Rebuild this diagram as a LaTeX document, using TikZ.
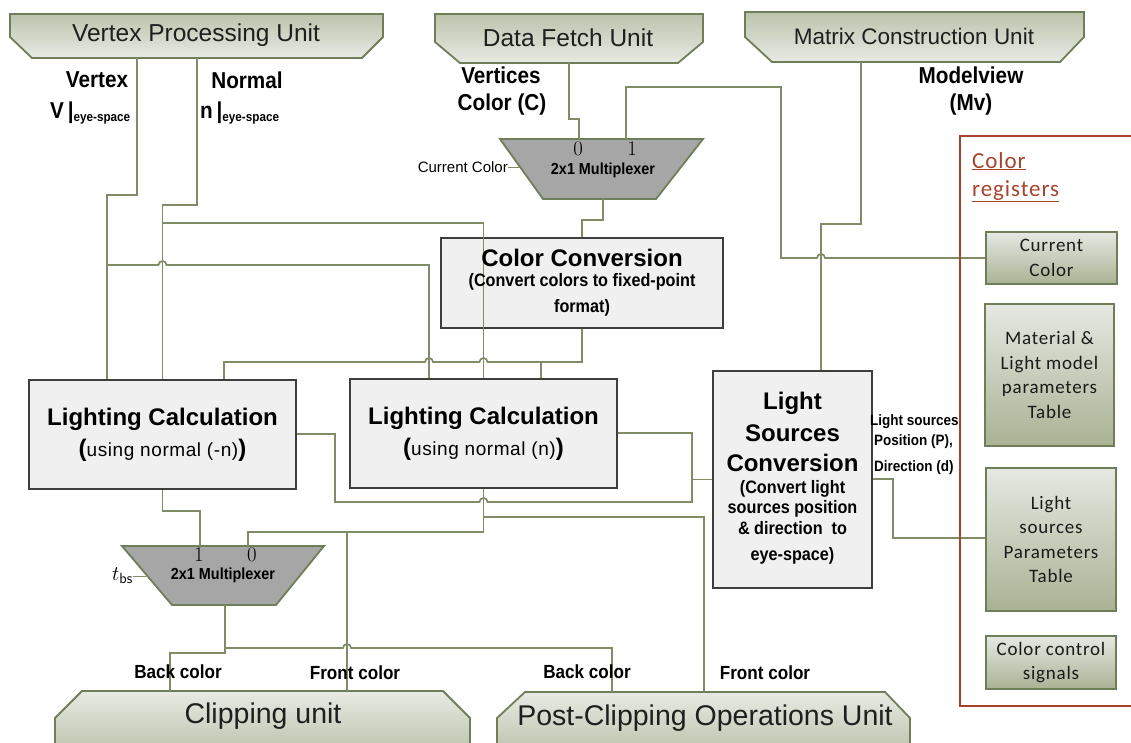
\documentclass[tikz,border=0pt]{standalone}
\usepackage{fontspec}
\setmainfont{Liberation Sans}
\newfontfamily\nbf{Liberation Sans}[FakeStretch=0.9]
\newfontfamily\regfont{Carlito}[LetterSpace=4]
\newfontfamily\spfont{Liberation Sans}[LetterSpace=3]
\definecolor{wirec}{HTML}{7F8C66}
\definecolor{boxedge}{HTML}{3E3E3E}
\definecolor{boxfill}{HTML}{F0F0F0}
\definecolor{unitedge}{HTML}{6F7D58}
\definecolor{unitdark}{HTML}{BCC3AC}
\definecolor{unitlight}{HTML}{E8EAE4}
\definecolor{regtop}{HTML}{E6E8E2}
\definecolor{regbot}{HTML}{A9B294}
\definecolor{regtext}{HTML}{1A1A1A}
\definecolor{muxfill}{HTML}{A6A6A6}
\definecolor{framec}{HTML}{A6432F}
\begin{document}
\begin{tikzpicture}[x=1pt,y=-1pt,
  wire/.style={draw=wirec,line width=1.7pt},
  procbox/.style={draw=boxedge,fill=boxfill,line width=2.2pt,inner sep=0pt},
  regbox/.style={draw=unitedge,line width=1.8pt,top color=regtop,bottom color=regbot,
    inner sep=0pt,align=center,text=regtext,font=\regfont\fontsize{19}{24.5}\selectfont},
  unitup/.style={draw=unitedge,line width=1.8pt,top color=unitdark,bottom color=unitlight},
  unitdown/.style={draw=unitedge,line width=1.8pt,top color=unitlight,bottom color=unitdark},
  muxs/.style={draw=unitedge,line width=1.8pt,fill=muxfill},
  txt/.style={inner sep=0pt,text=black},
  unittitle/.style={txt,text=black!88,font=\fontsize{24.5}{28}\selectfont},
  bottomtitle/.style={txt,text=black!88,font=\fontsize{28.5}{32}\selectfont},
  head/.style={txt,font=\bfseries\fontsize{24}{28}\selectfont},
  sub/.style={txt,font=\nbf\bfseries\fontsize{18}{20}\selectfont},
  usel/.style={txt,font=\spfont\fontsize{19}{22}\selectfont},
  lab/.style={txt,font=\nbf\bfseries\fontsize{23}{26}\selectfont},
  clab/.style={txt,font=\nbf\bfseries\fontsize{19}{22}\selectfont},
  slab/.style={txt,font=\nbf\bfseries\fontsize{15}{17}\selectfont},
  muxtxt/.style={txt,font=\nbf\bfseries\fontsize{16}{17}\selectfont},
  port/.style={txt,font=\fontsize{21}{21}\selectfont},
  regframe/.style={draw=framec,line width=2pt}
]
\useasboundingbox (0,0) rectangle (1131,742);

% ---------- source units (top) ----------
\path[unitup] (10,14) -- (383,14) -- (383,37) -- (362,58) -- (32,58) -- (10,37) -- cycle;
\path[unitup] (435,14) -- (703,14) -- (703,42) -- (678,63) -- (460,63) -- (435,42) -- cycle;
\path[unitup] (745,12) -- (1084,12) -- (1084,37) -- (1060,62) -- (772,62) -- (745,37) -- cycle;
\node[unittitle] (vpu) at (196,35) {Vertex Processing Unit};
\node[unittitle] (dfu) at (568,38) {Data Fetch Unit};
\node[unittitle,font=\fontsize{22.5}{26}\selectfont] (mcu) at (914,36) {Matrix Construction Unit};
\coordinate (vpuV) at (137,58);
\coordinate (vpuN) at (197,58);
\coordinate (dfuC) at (569,63);
\coordinate (mcuM) at (861,62);

% ---------- destination units (bottom) ----------
\path[unitdown] (82,691) -- (443,691) -- (470,718) -- (470,752) -- (55,752) -- (55,718) -- cycle;
\path[unitdown] (525,692) -- (885,692) -- (910,718) -- (910,752) -- (497,752) -- (497,718) -- cycle;
\node[bottomtitle] (clip) at (263,716) {Clipping unit};
\node[bottomtitle] (pco) at (705,718) {Post-Clipping Operations Unit};
\coordinate (clipB) at (170,691);
\coordinate (clipF) at (347,691);
\coordinate (pcoB) at (612,692);
\coordinate (pcoF) at (704,692);

% ---------- multiplexers ----------
\path[muxs] (500,139) -- (703,139) -- (656,199) -- (543,199) -- cycle;
\coordinate (mux1in0) at (579,139);
\coordinate (mux1in1) at (626,139);
\coordinate (mux1out) at (603,199);
\coordinate (mux1sel) at (520,167);
\path[muxs] (122,546) -- (324,546) -- (276,605) -- (172,605) -- cycle;
\coordinate (mux2in1) at (200,546);
\coordinate (mux2in0) at (248,546);
\coordinate (mux2out) at (225,605);
\coordinate (mux2sel) at (146,576);

% ---------- processing blocks ----------
\node[procbox,minimum width=282pt,minimum height=90pt] (cc) at (582,283) {};
\node[procbox,minimum width=267pt,minimum height=109pt] (lc1) at (162.5,434.5) {};
\node[procbox,minimum width=267pt,minimum height=109pt] (lc2) at (483.5,433.5) {};
\node[procbox,minimum width=159pt,minimum height=217pt] (lsc) at (792.5,479.5) {};

% ---------- color registers ----------
\node[regbox,minimum width=131pt,minimum height=52pt] (curcol) at (1051.5,258) {Current\\Color};
\node[regbox,minimum width=129pt,minimum height=142pt] (mattab) at (1049.5,375) {Material \&\\Light model\\parameters\\Table};
\node[regbox,minimum width=130pt,minimum height=143pt] (lstab) at (1051,539.5) {Light\\sources\\Parameters\\Table};
\node[regbox,minimum width=130pt,minimum height=53pt] (ccs) at (1051,662.5) {Color control\\signals};

% ---------- wires ----------
% vertex position
\draw[wire] (vpuV) -- (137,195) -- (107,195) -- (lc1.north -| 107,0);
\draw[wire] (107,265) -- (158.5,265) arc[start angle=180,end angle=0,radius=4pt] -- (429,265) -- (lc2.north -| 429,0);
% normal
\draw[wire] (vpuN) -- (197,205) -- (162.5,205) -- (lc1.north -| 162.5,0);
\draw[wire] (162.5,223) -- (483.5,223) -- (lc2.north -| 483.5,0);
% vertex colour into the colour multiplexer
\draw[wire] (dfuC) -- (569,119) -- (579,119) -- (mux1in0);
\draw[wire] (curcol.west) -- (825,258) arc[start angle=0,end angle=180,radius=4pt] -- (781,258) -- (781,87) -- (626,87) -- (mux1in1);
\draw[wire] (mux1out) -- (603,220) -- (582,220) -- (cc.north);
% converted colour to both lighting blocks
\draw[wire] (cc.south) -- (582,362) -- (541,362) -- (lc2.north -| 541,0);
\draw[wire] (541,362) -- (487.5,362) arc[start angle=0,end angle=180,radius=4pt] -- (433,362)
  arc[start angle=0,end angle=180,radius=4pt] -- (224,362) -- (lc1.north -| 224,0);
% modelview matrix
\draw[wire] (mcuM) -- (861,224) -- (821,224) -- (lsc.north -| 821,0);
% light sources table into the conversion block
\draw[wire] (lstab.west |- 0,538) -- (893,538) -- (893,479) -- (lsc.east |- 0,479);
% converted light sources to both lighting blocks
\draw[wire] (lsc.west) -- (692,479.5);
\draw[wire] (lc2.east |- 0,433) -- (692,433) -- (692,502) -- (487.5,502)
  arc[start angle=0,end angle=180,radius=4pt] -- (335,502) -- (335,434) -- (lc1.east |- 0,434);
% front colour
\draw[wire] (lc2.south) -- (483.5,532) -- (248,532) -- (mux2in0);
\draw[wire] (483.5,517) -- (704,517) -- (pcoF);
\draw[wire] (347,532) -- (clipF);
% back colour
\draw[wire] (lc1.south) -- (162.5,511) -- (200,511) -- (mux2in1);
\draw[wire] (mux2out) -- (225,653) -- (170,653) -- (clipB);
\draw[wire] (225,648) -- (343,648) arc[start angle=180,end angle=0,radius=4pt] -- (612,648) -- (pcoB);

% register frame
\draw[regframe] (1140,136) -- (960,136) -- (960,706) -- (1140,706);
\node[txt,anchor=west,align=left,text=framec,font=\regfont\fontsize{23}{28}\selectfont] (regs) at (972,177)
  {\underline{Color}\\\underline{registers}};

% ---------- block texts ----------
\node[head] (cct) at (582,258) {Color Conversion};
\node[sub] (ccs1) at (582,282) {(Convert colors to fixed-point};
\node[sub] (ccs2) at (582,308) {format)};
\node[head] (lc1t) at (162.5,419) {Lighting Calculation};
\node[usel] (lc1s) at (162.5,450) {{\bfseries\fontsize{24}{24}\selectfont(}using normal (-n){\bfseries\fontsize{24}{24}\selectfont)}};
\node[head] (lc2t) at (483.5,418) {Lighting Calculation};
\node[usel] (lc2s) at (483.5,449) {{\bfseries\fontsize{24}{24}\selectfont(}using normal (n){\bfseries\fontsize{24}{24}\selectfont)}};
\node[head] (lsc1) at (792.5,403) {Light};
\node[head] (lsc2) at (792.5,433) {Sources};
\node[head] (lsc3) at (792.5,463) {Conversion};
\node[sub] (lsc4) at (792.5,489) {(Convert light};
\node[sub] (lsc5) at (792.5,509) {sources position};
\node[sub] (lsc6) at (792.5,528) {\& direction\ \ to};
\node[sub] (lsc7) at (792.5,556) {eye-space)};

% ---------- multiplexer texts ----------
\node[muxtxt] (m1t) at (603,170) {2x1 Multiplexer};
\node[port] (m1p0) at (578,149) {$0$};
\node[port] (m1p1) at (632,149) {$1$};
\node[txt,anchor=east,font=\fontsize{15}{17}\selectfont] (curlab) at (508,167) {Current Color};
\draw[wire,line width=1pt] (curlab.east) -- (mux1sel);
\node[muxtxt] (m2t) at (223,575) {2x1 Multiplexer};
\node[port] (m2p1) at (199,555) {$1$};
\node[port] (m2p0) at (252,555) {$0$};
\node[txt,anchor=east,font=\fontsize{21}{21}\selectfont] (tbs) at (133,576) {$t_{\mathsf{bs}}$};
\draw[wire,line width=1pt] (tbs.east) -- (mux2sel);

% ---------- signal labels ----------
\node[lab] (lv1) at (97,80) {Vertex};
\node[txt,anchor=west] (lv2) at (50,113) {\nbf\bfseries\fontsize{23}{26}\selectfont V\,|\raisebox{-3pt}{\fontsize{13}{14}\selectfont eye-space}};
\node[lab] (ln1) at (247,80) {Normal};
\node[txt,anchor=west] (ln2) at (200,113) {\nbf\bfseries\fontsize{23}{26}\selectfont n\,|\raisebox{-3pt}{\fontsize{13}{14}\selectfont eye-space}};
\node[lab] (lc1l) at (501,75) {Vertices};
\node[lab] (lc2l) at (502,105) {Color (C)};
\node[lab] (lm1) at (971,75) {Modelview};
\node[lab] (lm2) at (971,105) {(Mv)};
\node[slab,anchor=west] (lp1) at (870,422) {Light sources};
\node[slab,anchor=west] (lp2) at (874,442) {Position (P),};
\node[slab,anchor=west] (lp3) at (874,468) {Direction (d)};
\node[clab] (bc1) at (178,672) {Back color};
\node[clab] (fc1) at (355,673) {Front color};
\node[clab] (bc2) at (587,672) {Back color};
\node[clab] (fc2) at (765,673) {Front color};
\end{tikzpicture}
\end{document}
